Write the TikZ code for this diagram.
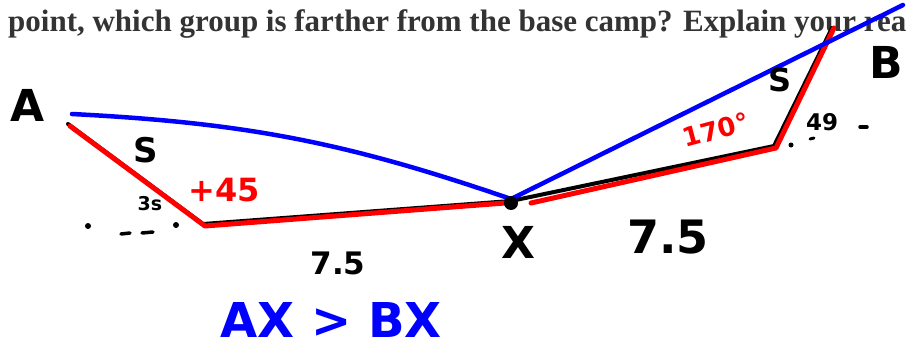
\documentclass[tikz,border=0pt]{standalone}
\usepackage{fontspec}
\setmainfont{Liberation Serif}
\newfontfamily\handfont{DejaVu Sans}
\usetikzlibrary{positioning}

\begin{document}
\begin{tikzpicture}[
  x=1pt, y=-1pt,
  hand/.style={font=\handfont\bfseries\fontsize{#1}{#1}\selectfont, inner sep=0pt},
  redpen/.style={draw=red, line width=5pt, line cap=round, line join=round},
  bluepen/.style={draw=blue, line width=4.5pt, line cap=round},
  inkpen/.style={draw=black, line width=4pt, line cap=round, line join=round},
  speck/.style={fill=black}
]
\useasboundingbox (0,0) rectangle (907,350);
\node[anchor=base west, inner sep=0pt, font=\bfseries\fontsize{31}{36}\selectfont, text=black!80] (question) at (8,32)
  {point, which group is farther from the base camp? Explain your rea};

% the two routes
\coordinate (a) at (70,126);
\coordinate (ac) at (205,226);
\coordinate (x) at (511,203);
\coordinate (bc) at (776,148);
\coordinate (b) at (834,28);
\coordinate (aTop) at (72,114);
\coordinate (bTop) at (903,5);

\draw[inkpen] ([shift={(-2,-2)}]a) -- ([shift={(-2,-2)}]ac) -- ([shift={(0,-2)}]x);
\draw[inkpen] ([shift={(0,-2)}]x) -- ([shift={(-2,-2)}]bc) -- ([shift={(-2,0)}]b);
\draw[redpen] (a) -- (ac) -- ([shift={(-6,0)}]x);
\draw[redpen] ([shift={(20,0)}]x) -- (bc) -- (b);
\draw[bluepen] (aTop) to[bend left=8] ([shift={(0,-4)}]x);
\draw[bluepen] ([shift={(0,-4)}]x) -- (bTop);
\fill (x) circle (7);

% labels
\node[hand=44] (lblA) at (28,105) {A};
\node[hand=44] (lblB) at (886,62) {B};
\node[hand=44] (lblX) at (518,242) {X};
\node[hand=34] (sA) at (146,150) {S};
\node[hand=19] (angA) at (150,204) {3s};
\node[hand=32, text=red] (turnA) at (224,190) {+45};
\node[hand=31] (legA) at (338,263) {7.5};
\node[hand=46] (legB) at (668,237) {7.5};
\node[hand=32] (sB) at (780,80) {S};
\node[hand=26, text=red, rotate=15] (turnB) at (716,130) {170°};
\node[hand=23] (angB) at (822,122) {49};
\node[hand=48, text=blue] (answer) at (331,320) {AX > BX};

% dots and dashes
\fill[speck] (88,226) circle (3);
\fill[speck] (176,225) circle (3);
\draw[inkpen, line width=3.5pt] (121,234) -- (130,233);
\draw[inkpen, line width=3.5pt] (142,233) -- (153,232);
\fill[speck] (791,145) circle (2.5);
\draw[inkpen, line width=3pt] (810,139) -- (814,138);
\draw[inkpen, line width=3.5pt] (860,127) -- (867,127);
\end{tikzpicture}
\end{document}
